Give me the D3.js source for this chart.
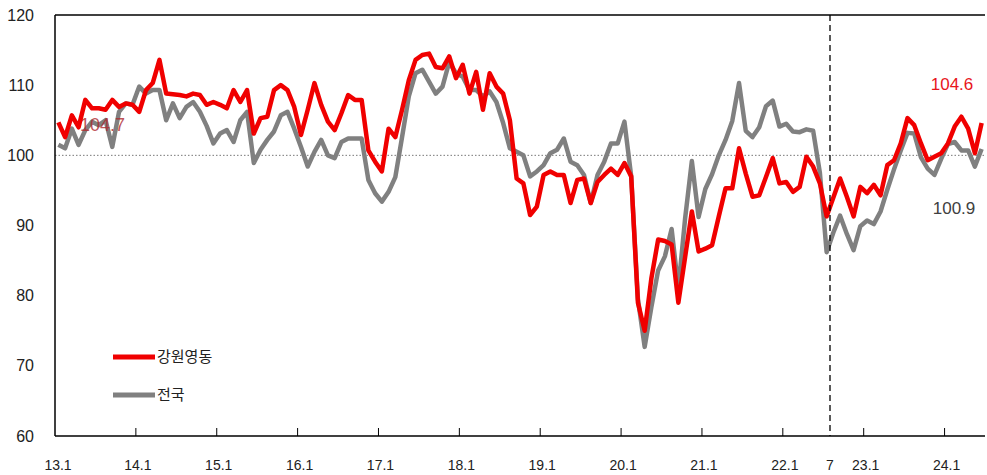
<!DOCTYPE html>
<html><head><meta charset="utf-8">
<script src="https://cdn.jsdelivr.net/npm/d3@7"></script>
<style>body{margin:0;background:#fff;} svg{display:block;}</style>
</head><body>
<svg id="c" width="987" height="475"></svg>
<script>
// ---- data ----
const startYear = 2013, nMonths = 138; // 2013.1 .. 2024.6
const categories = [];
for (let k = 0; k < nMonths; k++) categories.push(String((startYear + Math.floor(k/12)) % 100) + "." + (k % 12 + 1));

const gangwonYeongdong = [
104.7,102.6,105.7,104.0,107.9,106.7,106.7,106.5,107.9,106.9,107.4,107.2,
106.2,109.3,110.3,113.6,108.8,108.7,108.6,108.4,108.8,108.6,107.2,107.6,
107.2,106.7,109.3,107.6,109.3,103.1,105.3,105.5,109.3,110.0,109.3,106.9,
102.9,106.5,110.3,107.2,104.8,103.6,106.0,108.6,107.9,107.9,100.7,99.1,
97.7,103.8,102.6,106.5,110.7,113.6,114.3,114.5,112.6,112.4,114.1,111.0,
112.9,108.8,111.9,106.5,111.7,109.8,108.8,105.0,96.7,96.0,91.5,92.7,
97.2,97.7,97.2,97.2,93.2,96.5,96.7,93.2,96.2,97.2,98.1,97.2,
98.9,97.0,79.0,75.0,82.5,88.0,87.8,87.3,79.0,85.5,92.0,86.3,
86.7,87.2,91.3,95.3,95.3,101.0,97.4,94.1,94.3,96.9,99.6,96.0,
96.2,94.8,95.5,99.8,98.4,96.0,91.3,94.0,96.7,94.1,91.3,95.5,
94.6,95.8,94.3,98.6,99.3,101.7,105.3,104.3,101.7,99.3,99.8,100.3,
101.7,104.1,105.5,103.8,100.3,104.6];

const national = [
101.5,101.0,103.8,101.5,103.6,104.8,104.3,105.0,101.2,106.2,107.4,107.2,
109.8,108.8,109.3,109.3,105.0,107.4,105.3,106.9,107.6,106.2,104.2,101.7,
103.1,103.6,101.9,105.0,106.2,98.9,100.8,102.2,103.4,105.7,106.2,103.8,
101.2,98.4,100.5,102.2,100.0,99.6,101.9,102.4,102.4,102.4,96.5,94.6,
93.4,94.8,96.9,102.6,108.4,111.7,112.2,110.5,108.8,109.8,113.3,111.7,
111.2,109.3,109.3,108.4,109.1,107.6,104.6,101.0,100.5,100.0,97.0,97.7,
98.6,100.3,100.8,102.4,99.1,98.6,97.2,93.2,97.2,99.1,101.7,101.7,
104.8,97.0,79.5,72.7,78.4,83.6,85.6,89.5,81.0,91.0,99.2,91.2,
95.2,97.3,100.0,102.2,104.9,110.3,103.5,102.6,104.0,107.0,107.8,104.1,
104.5,103.4,103.3,103.7,103.5,97.5,86.2,89.0,91.4,88.8,86.5,89.9,
90.7,90.2,92.0,95.1,98.0,100.7,103.2,103.1,99.7,98.1,97.2,99.5,
101.6,101.9,100.7,100.7,98.4,100.9];

const seriesNames = ["강원영동", "전국"];
const yTicks = [60, 70, 80, 90, 100, 110, 120];
const xTickLabels = ["13.1","14.1","15.1","16.1","17.1","18.1","19.1","20.1","21.1","22.1","23.1","24.1"];
const markerLabel = "7";      // 2022.7
const markerCategory = "22.7";
const firstLabel = "104.7", lastRed = "104.6", lastGray = "100.9";

// ---- drawing ----
const svg = d3.select("#c");
const L = 55, R = 985, T = 15, B = 436;
const x = d3.scaleBand().domain(categories).range([L, R]).paddingInner(0).paddingOuter(0);
const y = d3.scaleLinear().domain([60, 120]).range([B, T]);
const cx = c => x(c) + x.bandwidth() / 2;
const RED = "#f00000", GRAY = "#808080";
const font = "'Liberation Sans', Arial, 'Noto Sans CJK KR', sans-serif";

// y labels
svg.append("g").selectAll("text").data(yTicks).join("text")
  .attr("x", 34).attr("y", d => y(d)).attr("dy", "0.35em")
  .attr("text-anchor", "end").attr("font-family", font).attr("font-size", 16).attr("fill", "#222")
  .text(d => d);

// reference line at 100
svg.append("line").attr("x1", L).attr("x2", R).attr("y1", y(100)).attr("y2", y(100))
  .attr("stroke", "#777").attr("stroke-width", 1).attr("stroke-dasharray", "1.5,2");

const line = arr => d3.line().x((d, i) => cx(categories[i])).y(d => y(d))(arr);
svg.append("path").attr("d", line(national)).attr("fill", "none").attr("stroke", GRAY)
  .attr("stroke-width", 4.5).attr("stroke-linejoin", "round");

// first data label (between gray and red line)
svg.append("text").attr("x", 80).attr("y", y(gangwonYeongdong[0]) + 2).attr("dy", "0.35em")
  .attr("font-family", font).attr("font-size", 18).attr("fill", "#b02a2e").attr("opacity", 0.8)
  .text(firstLabel);

svg.append("path").attr("d", line(gangwonYeongdong)).attr("fill", "none").attr("stroke", RED)
  .attr("stroke-width", 4.5).attr("stroke-linejoin", "round");

// frame: left, top, bottom
svg.append("line").attr("x1", L).attr("x2", L).attr("y1", T).attr("y2", B).attr("stroke", "#000").attr("stroke-width", 1.5);
svg.append("line").attr("x1", L).attr("x2", R).attr("y1", T).attr("y2", T).attr("stroke", "#000").attr("stroke-width", 1.5);
svg.append("line").attr("x1", L).attr("x2", R).attr("y1", B).attr("y2", B).attr("stroke", "#000").attr("stroke-width", 1.5);

// x ticks (year boundaries) and labels
const janCats = categories.filter(c => c.endsWith(".1"));
svg.append("g").selectAll("line").data(janCats.slice(1)).join("line")
  .attr("x1", d => x(d)).attr("x2", d => x(d)).attr("y1", B).attr("y2", B - 8)
  .attr("stroke", "#000").attr("stroke-width", 1);
svg.append("g").selectAll("text").data(xTickLabels).join("text")
  .attr("x", d => (d === "13.1" ? x(d) + 3 : x(d) + 2)).attr("y", 465).attr("dy", "0.35em")
  .attr("text-anchor", "middle").attr("font-family", font).attr("font-size", 14).attr("fill", "#222")
  .text(d => d);

// marker at 2022.7
const mx = x(markerCategory) + x.bandwidth();
svg.append("line").attr("x1", mx).attr("x2", mx).attr("y1", T).attr("y2", B)
  .attr("stroke", "#000").attr("stroke-width", 1.3).attr("stroke-dasharray", "6,4");
svg.append("text").attr("x", mx).attr("y", 465).attr("dy", "0.35em").attr("text-anchor", "middle")
  .attr("font-family", font).attr("font-size", 14).attr("fill", "#222").text(markerLabel);

// end labels
svg.append("text").attr("x", 952).attr("y", 84).attr("dy", "0.35em").attr("text-anchor", "middle")
  .attr("font-family", font).attr("font-size", 17).attr("fill", "#e8161b").text(lastRed);
svg.append("text").attr("x", 954).attr("y", 208).attr("dy", "0.35em").attr("text-anchor", "middle")
  .attr("font-family", font).attr("font-size", 17).attr("fill", "#404040").text(lastGray);

// legend
const lg = svg.append("g");
[[seriesNames[0], RED, 357], [seriesNames[1], GRAY, 395]].forEach(([name, col, yy]) => {
  lg.append("line").attr("x1", 113).attr("x2", 155).attr("y1", yy).attr("y2", yy)
    .attr("stroke", col).attr("stroke-width", 5);
  lg.append("text").attr("x", 157).attr("y", yy).attr("dy", "0.35em")
    .attr("font-family", "'Noto Sans CJK KR', sans-serif").attr("font-size", 15).attr("fill", "#222").text(name);
});
</script>
</body></html>
